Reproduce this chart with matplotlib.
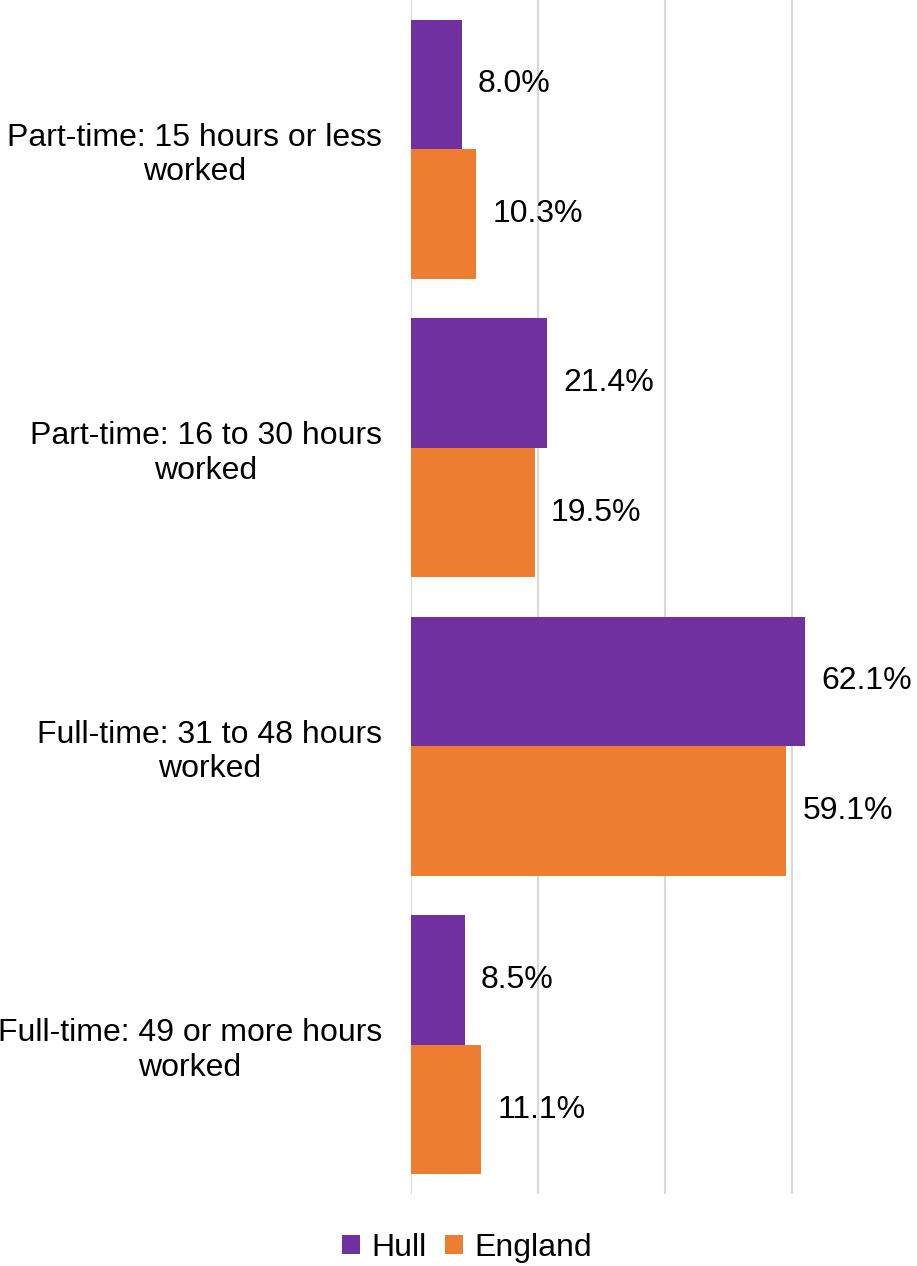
import matplotlib.pyplot as plt
import numpy as np

plt.rcParams['font.family'] = ['Liberation Sans', 'DejaVu Sans']

categories = ['Part-time: 15 hours or less\nworked',
              'Part-time: 16 to 30 hours\nworked',
              'Full-time: 31 to 48 hours\nworked',
              'Full-time: 49 or more hours\nworked']
hull = [8.0, 21.4, 62.1, 8.5]
england = [10.3, 19.5, 59.1, 11.1]
series_names = ['Hull', 'England']
colours = ['#7030A0', '#ED7D31']

fs = 23

fig = plt.figure(figsize=(9.17, 12.66), dpi=100)
ax = fig.add_axes([411 / 917, 1 - 1194 / 1266, 508 / 917, 1194 / 1266])

y = np.arange(len(categories))
h = 0.434
b1 = ax.barh(y - h / 2, hull, height=h, color=colours[0], label=series_names[0], zorder=3)
b2 = ax.barh(y + h / 2, england, height=h, color=colours[1], label=series_names[1], zorder=3)

for bars, vals in [(b1, hull), (b2, england)]:
    for bar, v in zip(bars, vals):
        ax.annotate('%.1f%%' % v, (v, bar.get_y() + bar.get_height() / 2),
                    xytext=(16, 0), textcoords='offset pixels',
                    ha='left', va='center', fontsize=fs)

ax.set_xlim(0, 80)
ax.set_ylim(len(categories) - 0.5, -0.5)
ax.set_xticks([0, 20, 40, 60])
ax.xaxis.grid(True, color='#D9D9D9', linewidth=1.5, zorder=0)
ax.tick_params(axis='x', length=0, labelbottom=False)
ax.tick_params(axis='y', length=0, pad=21)
ax.set_yticks(y)
ax.set_yticklabels(categories, fontsize=fs)
for lab in ax.get_yticklabels():
    lab.set_multialignment('center')
for s in ax.spines.values():
    s.set_visible(False)

fig.legend(handles=[b1, b2], loc='center', bbox_to_anchor=(467 / 917, 1 - 1248 / 1266),
           ncol=2, frameon=False, fontsize=fs, handlelength=0.55, handleheight=0.55,
           handletextpad=0.35, columnspacing=0.6)

fig.savefig('out.png', dpi=100)
